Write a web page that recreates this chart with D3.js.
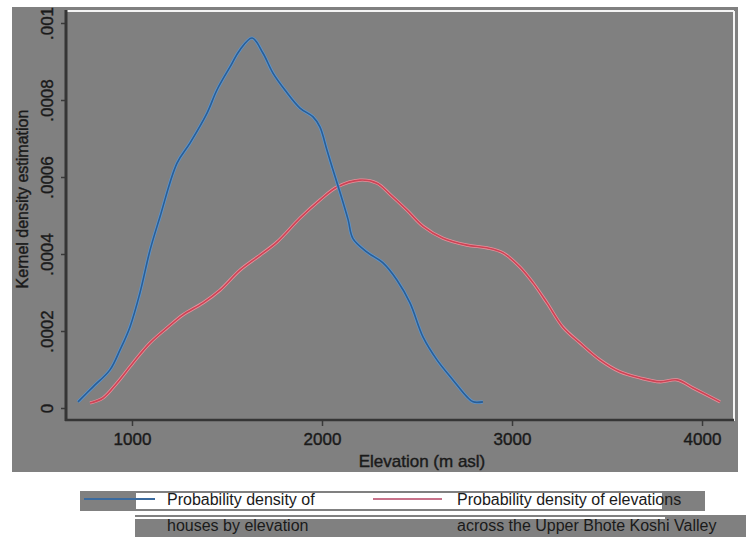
<!DOCTYPE html>
<html>
<head>
<meta charset="utf-8">
<script src="https://cdn.jsdelivr.net/npm/d3@7"></script>
<style>
  body { margin: 0; background: #fff; }
  text { font-family: "Liberation Sans", Arial, sans-serif; }
</style>
</head>
<body>
<div id="chart-area"></div>
<script>
// elevation (m asl) and kernel density
let housesElev = [716, 795, 884, 937, 989, 1042, 1095, 1147, 1237, 1305, 1395, 1447, 1516, 1568, 1632,
                  1689, 1742, 1805, 1884, 1953, 1989, 2026, 2058, 2095, 2137, 2163, 2237, 2321, 2395,
                  2463, 2532, 2605, 2689, 2763, 2795, 2847];
let housesDens = [0.000016, 0.000055, 0.000099, 0.000151, 0.000210, 0.000299, 0.000410, 0.000496, 0.000636,
                  0.000688, 0.000766, 0.000826, 0.000886, 0.000930, 0.000961, 0.000922, 0.000870, 0.000826,
                  0.000779, 0.000756, 0.000730, 0.000670, 0.000618, 0.000560, 0.000490, 0.000440, 0.000405,
                  0.000377, 0.000332, 0.000273, 0.000184, 0.000125, 0.000073, 0.000029, 0.000016, 0.000016];

let valleyElev = [779, 847, 921, 1005, 1095, 1184, 1268, 1374, 1463, 1568, 1674, 1763, 1884, 1989, 2079,
                  2200, 2289, 2358, 2447, 2532, 2637, 2763, 2868, 2953, 3042, 3111, 3184, 3268, 3358,
                  3463, 3568, 3674, 3779, 3868, 3953, 4095];
let valleyDens = [0.000013, 0.000026, 0.000065, 0.000117, 0.000169, 0.000208, 0.000242, 0.000273, 0.000306,
                  0.000358, 0.000397, 0.000431, 0.000493, 0.000540, 0.000574, 0.000592, 0.000584, 0.000555,
                  0.000514, 0.000472, 0.000441, 0.000423, 0.000416, 0.000403, 0.000366, 0.000325, 0.000273,
                  0.000210, 0.000169, 0.000125, 0.000094, 0.000078, 0.000068, 0.000073, 0.000052, 0.000016];

let xTicks = [1000, 2000, 3000, 4000];
let yTicks = [0, 0.0002, 0.0004, 0.0006, 0.0008, 0.001];
let yTickLabels = ["0", ".0002", ".0004", ".0006", ".0008", ".001"];

let svgCanvas = d3.select("#chart-area")
                  .append("svg")
                  .attr("width", 746)
                  .attr("height", 539)

// gray chart background
svgCanvas.append("rect")
         .attr("x", 12).attr("y", 7)
         .attr("width", 726).attr("height", 465)
         .attr("fill", "#808080")

let x = d3.scaleLinear().domain([658, 4163]).range([67, 733]);
let y = d3.scaleLinear().domain([0, 0.001]).range([408, 23]);

// white frame lines of the plot region
svgCanvas.append("line")
         .attr("x1", 67).attr("x2", 734).attr("y1", 11).attr("y2", 11)
         .attr("stroke", "#f4f4f4").attr("stroke-width", 2)
svgCanvas.append("line")
         .attr("x1", 734).attr("x2", 734).attr("y1", 11).attr("y2", 421)
         .attr("stroke", "#f4f4f4").attr("stroke-width", 2)

// axes
let yAxis = svgCanvas.append("g")
                     .attr("transform", "translate(67,0)")
                     .call(d3.axisLeft(y).tickValues(yTicks).tickSize(6)
                             .tickFormat((d, i) => yTickLabels[i]));
yAxis.select(".domain").remove();
yAxis.selectAll(".tick line").attr("stroke", "#3a3a3a").attr("stroke-width", 1.5);
yAxis.selectAll(".tick text")
     .attr("transform", "rotate(-90)")
     .attr("x", 0).attr("y", -14).attr("dy", null)
     .attr("text-anchor", "middle")
     .attr("fill", "#1a1a1a")
     .attr("stroke", "#1a1a1a").attr("stroke-width", 0.4)
     .style("font-size", "17px")
     .style("font-family", "'Liberation Sans', Arial, sans-serif");

let xAxis = svgCanvas.append("g")
                     .attr("transform", "translate(0,420)")
                     .call(d3.axisBottom(x).tickValues(xTicks).tickSize(6).tickFormat(d3.format("d")));
xAxis.select(".domain").remove();
xAxis.selectAll(".tick line").attr("stroke", "#3a3a3a").attr("stroke-width", 1.5);
xAxis.selectAll(".tick text")
     .attr("y", 25).attr("dy", null)
     .attr("fill", "#1a1a1a")
     .attr("stroke", "#1a1a1a").attr("stroke-width", 0.4)
     .style("font-size", "17px")
     .style("font-family", "'Liberation Sans', Arial, sans-serif");

svgCanvas.append("line")
         .attr("x1", 66).attr("x2", 66).attr("y1", 10).attr("y2", 421)
         .attr("stroke", "#353535").attr("stroke-width", 3)
svgCanvas.append("line")
         .attr("x1", 65).attr("x2", 734).attr("y1", 420).attr("y2", 420)
         .attr("stroke", "#353535").attr("stroke-width", 2.5)

// axis titles
svgCanvas.append("text")
         .attr("transform", "translate(28,199) rotate(-90)")
         .attr("text-anchor", "middle")
         .attr("fill", "#1a1a1a")
         .attr("stroke", "#1a1a1a").attr("stroke-width", 0.4)
         .style("font-size", "16px")
         .text("Kernel density estimation")
svgCanvas.append("text")
         .attr("x", 422).attr("y", 467)
         .attr("text-anchor", "middle")
         .attr("fill", "#1a1a1a")
         .attr("stroke", "#1a1a1a").attr("stroke-width", 0.4)
         .style("font-size", "17px")
         .text("Elevation (m asl)")

// density curves
let line = d3.line()
             .x(d => x(d[0]))
             .y(d => y(d[1]))
             .curve(d3.curveCatmullRom);

svgCanvas.append("path")
         .datum(valleyElev.map((e, i) => [e, valleyDens[i]]))
         .attr("d", line)
         .attr("fill", "none")
         .attr("stroke", "#e8909c")
         .attr("stroke-width", 3.2)
svgCanvas.append("path")
         .datum(valleyElev.map((e, i) => [e, valleyDens[i]]))
         .attr("d", line)
         .attr("fill", "none")
         .attr("stroke", "#cc4455")
         .attr("stroke-width", 1.6)

svgCanvas.append("path")
         .datum(housesElev.map((e, i) => [e, housesDens[i]]))
         .attr("d", line)
         .attr("fill", "none")
         .attr("stroke", "#5b95cf")
         .attr("stroke-width", 3.2)
svgCanvas.append("path")
         .datum(housesElev.map((e, i) => [e, housesDens[i]]))
         .attr("d", line)
         .attr("fill", "none")
         .attr("stroke", "#2a5e96")
         .attr("stroke-width", 1.6)

// legend (with the scanned gray patches)
svgCanvas.append("rect").attr("x", 80).attr("y", 491).attr("width", 625).attr("height", 20).attr("fill", "#808080")
svgCanvas.append("rect").attr("x", 136).attr("y", 493).attr("width", 526).attr("height", 16).attr("fill", "#fff")
svgCanvas.append("rect").attr("x", 135).attr("y", 515).attr("width", 611).attr("height", 22).attr("fill", "#808080")
svgCanvas.append("line")
         .attr("x1", 135).attr("x2", 665).attr("y1", 518).attr("y2", 518)
         .attr("stroke", "#fff").attr("stroke-width", 2)

svgCanvas.append("line")
         .attr("x1", 84).attr("x2", 155).attr("y1", 499).attr("y2", 499)
         .attr("stroke", "#3a6a9e").attr("stroke-width", 2)
svgCanvas.append("line")
         .attr("x1", 373).attr("x2", 442).attr("y1", 499).attr("y2", 499)
         .attr("stroke", "#c8728a").attr("stroke-width", 2)

let legendText = [
  {x: 167, y: 505, t: "Probability density of"},
  {x: 167, y: 531, t: "houses by elevation"},
  {x: 457, y: 505, t: "Probability density of elevations"},
  {x: 457, y: 531, t: "across the Upper Bhote Koshi Valley"}
];
svgCanvas.selectAll(".leg")
         .data(legendText)
         .enter().append("text")
         .attr("class", "leg")
         .attr("x", d => d.x)
         .attr("y", d => d.y)
         .attr("fill", "#1a1a1a")
         .style("font-size", "16px")
         .text(d => d.t)
</script>
</body>
</html>
